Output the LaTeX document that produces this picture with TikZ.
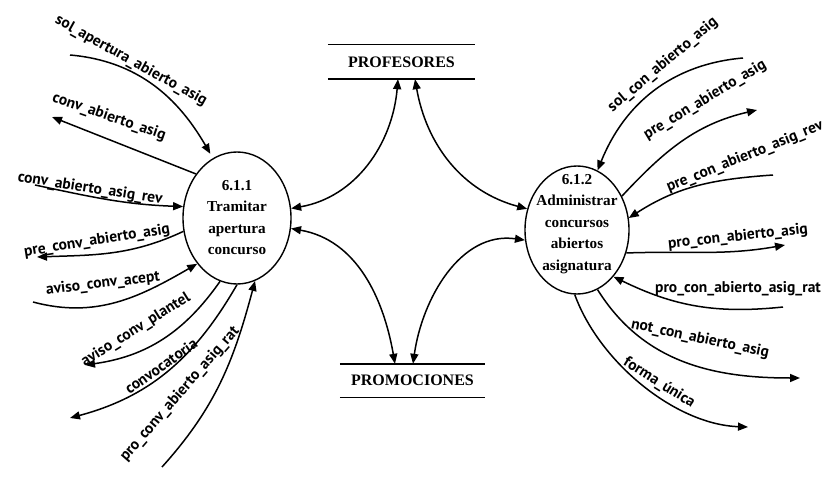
\documentclass[tikz,border=0pt]{standalone}
\usepackage{fontspec}
\setmainfont{Liberation Serif}
\newfontfamily\flowfont{PT Sans}
\usetikzlibrary{arrows.meta,shapes.geometric}

\begin{document}
\begin{tikzpicture}[x=1pt,y=1pt,
  tip/.tip={Triangle[length=10pt,width=8pt]},
  proc/.style={ellipse, draw, line width=1.4pt, inner sep=0pt},
  proctext/.style={font=\bfseries\fontsize{15.2}{21.5}\selectfont, align=center, inner sep=0pt},
  store/.style={font=\bfseries\fontsize{16}{18}\selectfont, inner sep=0pt},
  storeline/.style={line width=1.4pt},
  flow/.style={line width=1.5pt, -tip},
  dflow/.style={line width=1.5pt, tip-tip},
  lbl/.style={font=\flowfont\bfseries\fontsize{15.5}{17}\selectfont, inner sep=0pt},
]
\useasboundingbox (0,0) rectangle (832,480);

% processes
\node[proc, minimum width=108pt, minimum height=132pt] (p1) at (237,262) {};
\node[proctext] (p1t) at (237,262.5) {6.1.1\\Tramitar\\apertura\\concurso};
\node[proc, minimum width=104pt, minimum height=128pt] (p2) at (577,250) {};
\node[proctext] (p2t) at (577,256) {6.1.2\\Administrar\\concursos\\abiertos\\asignatura};

% data stores
\node[store, minimum width=147pt, minimum height=34pt] (prof) at (401.5,418) {PROFESORES};
\draw[storeline] (prof.north west) -- (prof.north east) (prof.south west) -- (prof.south east);
\node[store, minimum width=145pt, minimum height=33pt] (promo) at (412.5,99.5) {PROMOCIONES};
\draw[storeline] (promo.north west) -- (promo.north east) (promo.south west) -- (promo.south east);

% store access
\draw[dflow] ([xshift=-3.5pt]prof.south) to[out=-95,in=10] (p1.10);
\draw[dflow] ([xshift=13.5pt]prof.south) to[out=-80,in=165] (p2.157);
\draw[dflow] (p1.-11) to[out=-10,in=100] ([xshift=-17.5pt]promo.north);
\draw[dflow] (p2.191) to[out=172,in=82] ([xshift=0.5pt]promo.north);

% free ends, left
\coordinate (a0) at (70,425);
\coordinate (b1) at (52,363);
\coordinate (c0) at (35,295);
\coordinate (d1) at (37,223);
\coordinate (e0) at (33,178);
\coordinate (f1) at (85,115);
\coordinate (g1) at (70,62);
\coordinate (h0) at (162,13);
% free ends, right
\coordinate (i0) at (743,422);
\coordinate (j1) at (757,370);
\coordinate (k0) at (773,305);
\coordinate (l1) at (785,235);
\coordinate (m0) at (783,173);
\coordinate (n1) at (800,102);
\coordinate (o1) at (748,53);

% flow labels, left
\node[lbl, rotate=-29] (la) at (131,419) {sol\_apertura\_abierto\_asig};
\node[lbl, rotate=-19] (lb) at (109,363) {conv\_abierto\_asig};
\node[lbl, rotate=-9]  (lc) at (90,291) {conv\_abierto\_asig\_rev};
\node[lbl, rotate=9]   (ld) at (97,239) {pre\_conv\_abierto\_asig};
\node[lbl, rotate=7]   (le) at (103,196) {aviso\_conv\_acept};
\node[lbl, rotate=32]  (lf) at (136,150) {aviso\_conv\_plantel};
\node[lbl, rotate=35]  (lg) at (161,114) {convocatoria};
\node[lbl, rotate=49]  (lh) at (180,86) {pro\_conv\_abierto\_asig\_rat};
% flow labels, right
\node[lbl, rotate=40]  (li) at (663,415) {sol\_con\_abierto\_asig};
\node[lbl, rotate=31]  (lj) at (705,380) {pre\_con\_abierto\_asig};
\node[lbl, rotate=22]  (lk) at (745,323) {pre\_con\_abierto\_asig\_rev};
\node[lbl, rotate=6]   (ll) at (738,243) {pro\_con\_abierto\_asig};
\node[lbl]             (lm) at (738,191) {pro\_con\_abierto\_asig\_rat};
\node[lbl, rotate=-12] (ln) at (700,141) {not\_con\_abierto\_asig};
\node[lbl, rotate=-32] (lo) at (659,97) {forma\_única};

% flows, left process
\draw[flow, shorten >=5pt] (a0) to[out=-5,in=120] (p1.112);
\draw[flow] (p1.133) -- (b1);
\draw[flow] (c0) to[out=-12,in=178] (p1.168);
\draw[flow] (p1.194) to[out=205,in=2] (d1);
\draw[flow] (e0) to[out=-15,in=210] (p1.229);
\draw[flow] (p1.255) to[out=235,in=8] (f1);
\draw[flow] (p1.270) to[out=240,in=15] (g1);
\draw[flow] (h0) to[out=48,in=255] (p1.286);
% flows, right process
\draw[flow] (i0) to[out=185,in=68] (p2.71);
\draw[flow] (p2.37) to[out=47,in=193] (j1);
\draw[flow] (k0) to[out=184,in=33] (p2.13);
\draw[flow] (p2.-25) to[out=2,in=190] (l1);
\draw[flow] (m0) to[out=186,in=-26] (p2.-52);
\draw[flow] (p2.-71) to[out=-58,in=180] (n1);
\draw[flow] (p2.-92) to[out=-70,in=178,looseness=0.85] (o1);
\end{tikzpicture}
\end{document}
